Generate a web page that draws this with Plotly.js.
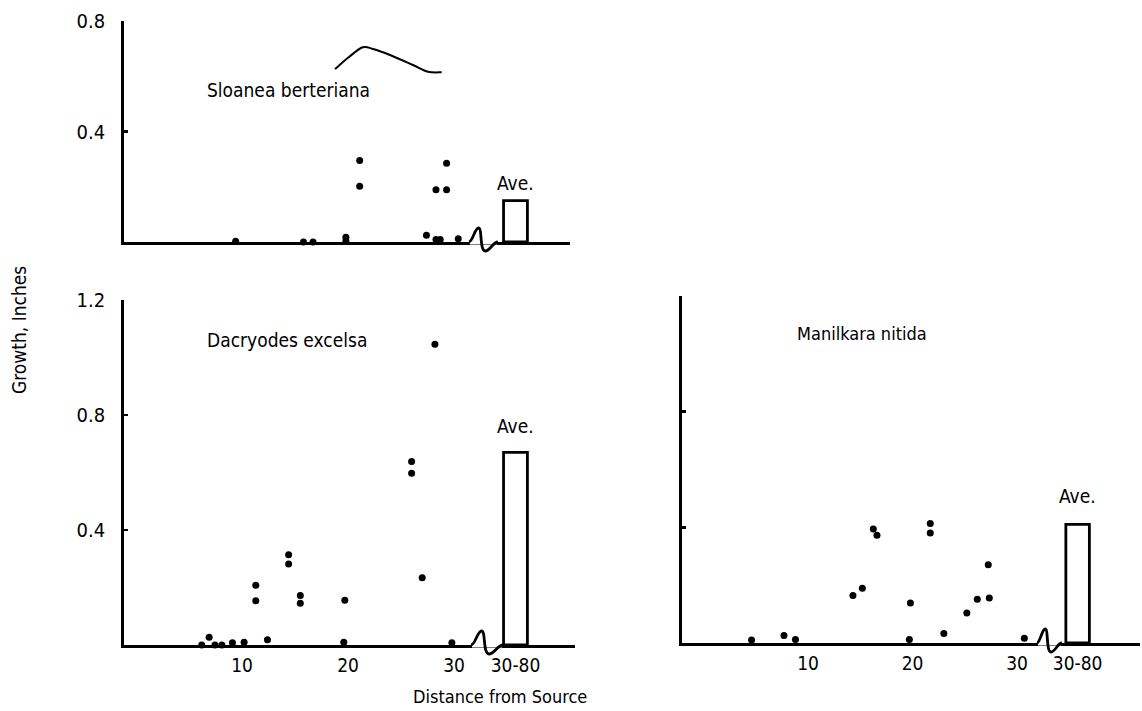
<!DOCTYPE html>
<html><head><meta charset="utf-8">
<script src="https://cdn.plot.ly/plotly-3.0.1.min.js"></script>
<style>html,body{margin:0;padding:0;background:#fff}#chart{width:1142px;height:711px}</style>
</head><body><div id="chart"></div>
<script>
// ---------- data ----------
const tickLabels = ['10', '20', '30', '30-80'];
const tickValues = [10, 20, 30, 35.8];
const yTicksTop = [0.4, 0.8];
const yTicksBottom = [0.4, 0.8, 1.2];
const aveLabel = 'Ave.';
const aveCategory = [35.8];

const sloaneaName = 'Sloanea berteriana';
const sloaneaX = [9.4, 15.8, 16.7, 19.8, 19.8, 21.1, 21.1, 27.4, 28.3, 28.3, 28.7, 29.3, 29.3, 30.4];
const sloaneaY = [0.003, 0, 0, 0.017, 0.004, 0.295, 0.202, 0.024, 0.189, 0.009, 0.009, 0.189, 0.285, 0.012];
const sloaneaAve = [0.15];

const dacryodesName = 'Dacryodes excelsa';
const dacryodesX = [6.2, 6.9, 7.45, 8.1, 9.1, 10.2, 11.3, 11.3, 12.4, 14.4, 14.4, 15.5, 15.5, 19.6, 19.7, 26.0, 26.0, 27.0, 28.2, 29.8];
const dacryodesY = [0, 0.027, 0, 0, 0.008, 0.01, 0.208, 0.154, 0.018, 0.314, 0.282, 0.172, 0.145, 0.01, 0.156, 0.638, 0.597, 0.234, 1.046, 0.008];
const dacryodesAve = [0.67];

const manilkaraName = 'Manilkara nitida';
const manilkaraX = [4.6, 7.7, 8.8, 14.3, 15.2, 16.25, 16.6, 19.7, 19.8, 21.7, 21.7, 23.0, 25.2, 26.2, 27.25, 27.35, 30.7];
const manilkaraY = [0.01, 0.026, 0.012, 0.164, 0.189, 0.394, 0.373, 0.012, 0.138, 0.413, 0.38, 0.033, 0.104, 0.151, 0.271, 0.156, 0.016];
const manilkaraAve = [0.41];

const yTitle = 'Growth, Inches';
const xTitle = 'Distance from Source';

// ---------- layout geometry ----------
const W = 1142, H = 711;
const FONT = '"DejaVu Sans Condensed", "Liberation Sans Narrow", "DejaVu Sans", sans-serif';
const INK = '#000';

// pixel boxes for each panel: x pixels [left,right], y pixels [bottom,top]
const P = {
  top: {xp: [124, 570], yp: [242, 21], ppu: 10.6, ref: [10, 242], yr: [0, 0.8]},
  bl:  {xp: [124, 575], yp: [645, 300], ppu: 10.6, ref: [10, 242], yr: [0, 1.2]},
  br:  {xp: [682, 1140], yp: [643, 296], ppu: 10.45, ref: [10, 808], yr: [0, 1.2]}
};
for (const k in P) {
  const p = P[k];
  p.xr = [p.ref[0] + (p.xp[0] - p.ref[1]) / p.ppu, p.ref[0] + (p.xp[1] - p.ref[1]) / p.ppu];
}
const fx = px => px / W;
const fy = py => 1 - py / H;
const toPx = (p, x) => p.xp[0] + (x - p.xr[0]) / (p.xr[1] - p.xr[0]) * (p.xp[1] - p.xp[0]);
const toPy = (p, y) => p.yp[0] - (y - p.yr[0]) / (p.yr[1] - p.yr[0]) * (p.yp[0] - p.yp[1]);

function xaxis(p, anchor, showLabels) {
  return {
    domain: [fx(p.xp[0]), fx(p.xp[1])], range: p.xr, anchor: anchor,
    showline: true, linecolor: INK, linewidth: 2.8, showgrid: false, zeroline: false,
    tickmode: 'array', tickvals: tickValues, ticktext: tickLabels, ticks: '',
    showticklabels: showLabels, tickfont: {family: FONT, size: 19, color: INK},
    ticklabelstandoff: 1, fixedrange: true
  };
}
function yaxis(p, anchor, vals, showLabels) {
  return {
    domain: [fy(p.yp[0]), fy(p.yp[1])], range: p.yr, anchor: anchor,
    showline: true, linecolor: INK, linewidth: 2.8, showgrid: false, zeroline: false,
    tickmode: 'array', tickvals: vals, ticktext: vals.map(v => v.toFixed(1)),
    ticks: 'inside', ticklen: 4, tickwidth: 2.5, tickcolor: INK,
    showticklabels: showLabels, tickfont: {family: FONT, size: 20, color: INK},
    ticklabelstandoff: 12, fixedrange: true
  };
}

function dots(x, y, xa, ya) {
  return {type: 'scatter', mode: 'markers', x: x, y: y, xaxis: xa, yaxis: ya,
    marker: {color: INK, size: 7}, cliponaxis: false, hoverinfo: 'skip'};
}
function aveBar(v, xa, ya) {
  return {type: 'bar', x: aveCategory, y: v, width: 2.25, xaxis: xa, yaxis: ya,
    marker: {color: '#fff', line: {color: INK, width: 2.8}}, hoverinfo: 'skip'};
}

const data = [
  dots(sloaneaX, sloaneaY, 'x', 'y'), aveBar(sloaneaAve, 'x', 'y'),
  dots(dacryodesX, dacryodesY, 'x2', 'y2'), aveBar(dacryodesAve, 'x2', 'y2'),
  dots(manilkaraX, manilkaraY, 'x3', 'y3'), aveBar(manilkaraAve, 'x3', 'y3')
];

// axis-break squiggles
function squiggle(p, xStart, width) {
  const a = toPx(p, xStart), b = toPy(p, 0), s = width / 30;
  const pt = (dx, dy) => fx(a + dx * s) + ',' + fy(b + dy);
  const path = 'M' + pt(0, 0) + ' C' + pt(4, 0) + ' ' + pt(6, -14) + ' ' + pt(10, -14) +
    ' C' + pt(14, -14) + ' ' + pt(11, 9) + ' ' + pt(17, 9) +
    ' C' + pt(22, 9) + ' ' + pt(25, 0) + ' ' + pt(30, 0);
  return [
    {type: 'rect', xref: 'paper', yref: 'paper', x0: fx(a + 1), x1: fx(a + width - 1),
      y0: fy(b + 2.5), y1: fy(b - 2.5), fillcolor: '#fff', line: {width: 0}, layer: 'above'},
    {type: 'path', xref: 'paper', yref: 'paper', path: path, line: {color: INK, width: 2.8}, layer: 'above'}
  ];
}
// stray hand-drawn stroke in the top panel
const strokePx = [[335, 69], [349, 57], [362.7, 47.3], [373, 49], [390, 55], [413, 65], [428, 71.7], [441.7, 72.3]];
function smoothPath(pts) {
  let d = 'M' + fx(pts[0][0]) + ',' + fy(pts[0][1]);
  for (let i = 0; i < pts.length - 1; i++) {
    const p0 = pts[Math.max(0, i - 1)], p1 = pts[i], p2 = pts[i + 1], p3 = pts[Math.min(pts.length - 1, i + 2)];
    const c1 = [p1[0] + (p2[0] - p0[0]) / 6, p1[1] + (p2[1] - p0[1]) / 6];
    const c2 = [p2[0] - (p3[0] - p1[0]) / 6, p2[1] - (p3[1] - p1[1]) / 6];
    d += ' C' + fx(c1[0]) + ',' + fy(c1[1]) + ' ' + fx(c2[0]) + ',' + fy(c2[1]) + ' ' + fx(p2[0]) + ',' + fy(p2[1]);
  }
  return d;
}

const shapes = [].concat(
  squiggle(P.top, 31.4, 29),
  squiggle(P.bl, 31.6, 32),
  squiggle(P.br, 31.9, 25),
  [{type: 'path', xref: 'paper', yref: 'paper', path: smoothPath(strokePx), line: {color: INK, width: 2}, layer: 'above'}]
);

function label(text, px, py, size, extra) {
  return Object.assign({text: text, xref: 'paper', yref: 'paper', x: fx(px), y: fy(py),
    xanchor: 'left', yanchor: 'middle', showarrow: false,
    font: {family: FONT, size: size, color: INK}}, extra || {});
}
function aveText(xa, ya, v, shift) {
  return {text: aveLabel, xref: xa, yref: ya, x: aveCategory[0], y: v[0], xanchor: 'center', yanchor: 'middle',
    yshift: shift, showarrow: false, font: {family: FONT, size: 19, color: INK}};
}

const annotations = [
  label(sloaneaName, 205, 90, 19),
  label(dacryodesName, 205, 340, 19),
  label(manilkaraName, 795, 333, 18),
  aveText('x', 'y', sloaneaAve, 18),
  aveText('x2', 'y2', dacryodesAve, 26),
  aveText('x3', 'y3', manilkaraAve, 28),
  label(yTitle, 19, 330, 19, {xanchor: 'center', textangle: -90}),
  label(xTitle, 500, 696, 18, {xanchor: 'center'})
];

const layout = {
  width: W, height: H, autosize: false,
  margin: {l: 0, r: 0, t: 0, b: 0, pad: 0},
  paper_bgcolor: '#fff', plot_bgcolor: 'rgba(0,0,0,0)',
  showlegend: false, bargap: 0,
  xaxis: xaxis(P.top, 'y', false),
  yaxis: yaxis(P.top, 'x', yTicksTop, true),
  xaxis2: xaxis(P.bl, 'y2', true),
  yaxis2: yaxis(P.bl, 'x2', yTicksBottom, true),
  xaxis3: xaxis(P.br, 'y3', true),
  yaxis3: yaxis(P.br, 'x3', yTicksBottom, false),
  shapes: shapes,
  annotations: annotations
};

Plotly.newPlot('chart', data, layout, {staticPlot: true, displayModeBar: false});
</script>
</body></html>
